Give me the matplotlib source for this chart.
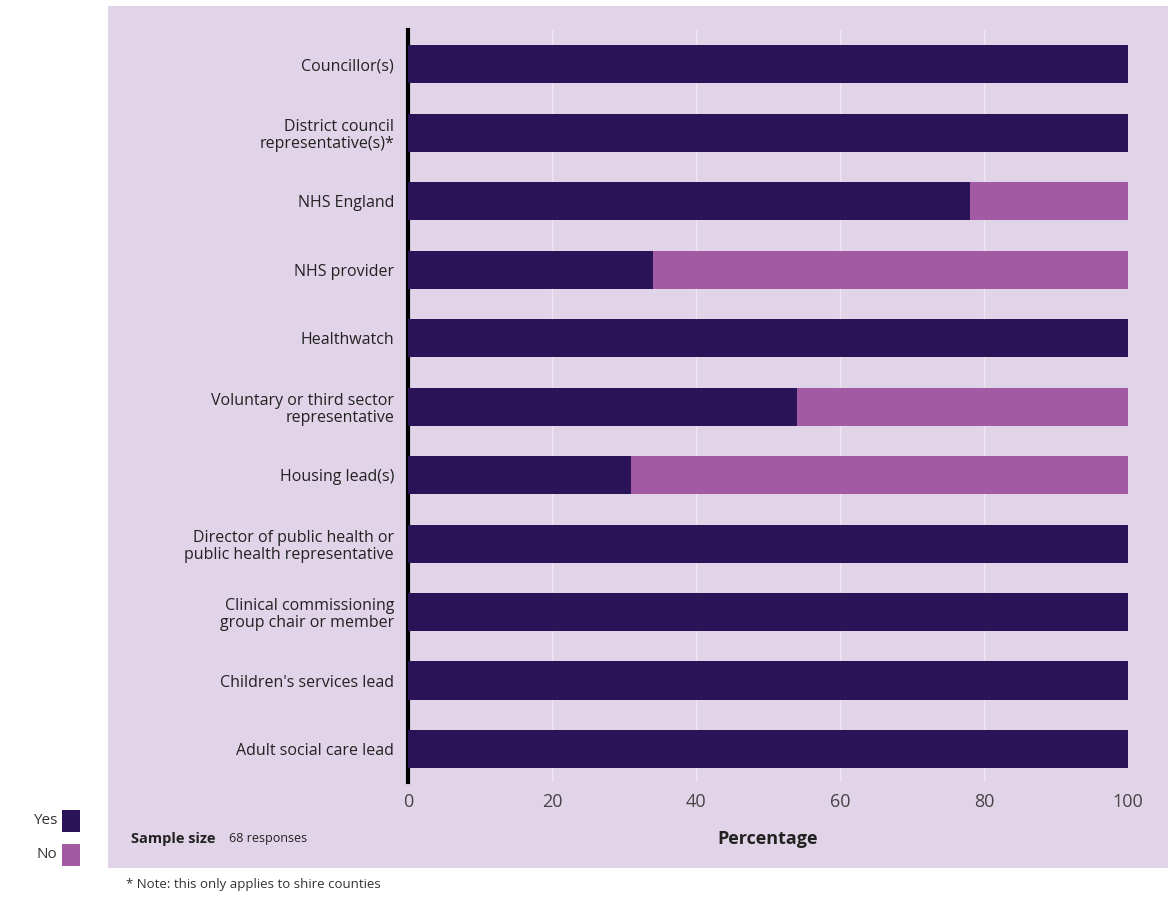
import numpy as np
import matplotlib.pyplot as plt
from matplotlib.patches import Rectangle

# data
categories = ["Councillor(s)", "District council\nrepresentative(s)*", "NHS England",
              "NHS provider", "Healthwatch", "Voluntary or third sector\nrepresentative",
              "Housing lead(s)", "Director of public health or\npublic health representative",
              "Clinical commissioning\ngroup chair or member", "Children's services lead",
              "Adult social care lead"]
yes = [100, 100, 78, 34, 100, 54, 31, 100, 100, 100, 100]
no = [100 - v for v in yes]
xticks = [0, 20, 40, 60, 80, 100]

dark = "#2a1357"
pink = "#a25ba3"
panel = "#e1d4e8"

plt.rcParams['font.family'] = ['Open Sans', 'DejaVu Sans']

fig = plt.figure(figsize=(11.68, 8.99), dpi=100)
fig.patches.append(Rectangle((0.0925, 0.0345), 0.9075, 0.9588, transform=fig.transFigure,
                             facecolor=panel, edgecolor='none', zorder=-5))

ax = fig.add_axes([0.3493, 0.1301, 0.6165, 0.8365])
ax.set_facecolor('none')
y = np.arange(len(categories))
ax.barh(y, yes, height=0.56, color=dark, zorder=3)
ax.barh(y, no, left=yes, height=0.56, color=pink, zorder=3)
ax.set_ylim(10.48, -0.5)
ax.set_xlim(0, 100)
ax.set_yticks(y)
ax.set_yticklabels(categories, fontsize=11.5, color='#222222', linespacing=1.1)
ax.set_xticks(xticks)
ax.set_xticklabels([str(t) for t in xticks], fontsize=13, color='#444444')
ax.tick_params(axis='both', length=0, pad=8)
ax.tick_params(axis='y', pad=10)
for v in xticks[1:-1]:
    ax.axvline(v, color='white', lw=1, alpha=0.45, zorder=1)
for s in ['top', 'right', 'bottom']:
    ax.spines[s].set_visible(False)
ax.spines['left'].set_linewidth(3)
ax.spines['left'].set_color('black')

fig.text(0.657, 0.067, "Percentage", ha='center', va='center', fontsize=13, fontweight='bold', color='#222222')
fig.text(0.112, 0.067, "Sample size", ha='left', va='center', fontsize=10.5, fontweight='bold', color='#222222')
fig.text(0.196, 0.067, "68 responses", ha='left', va='center', fontsize=9, color='#222222')
fig.text(0.108, 0.016, "* Note: this only applies to shire counties", ha='left', va='center', fontsize=9.5, color='#333333')

# legend squares outside panel
fig.patches.append(Rectangle((0.0531, 0.0745), 0.0154, 0.0245, transform=fig.transFigure,
                             facecolor=dark, edgecolor='none'))
fig.patches.append(Rectangle((0.0531, 0.0367), 0.0154, 0.0245, transform=fig.transFigure,
                             facecolor=pink, edgecolor='none'))
fig.text(0.049, 0.087, "Yes", ha='right', va='center', fontsize=11, color='#333333')
fig.text(0.049, 0.049, "No", ha='right', va='center', fontsize=11, color='#333333')

fig.savefig("out.png", dpi=100, facecolor='white')
